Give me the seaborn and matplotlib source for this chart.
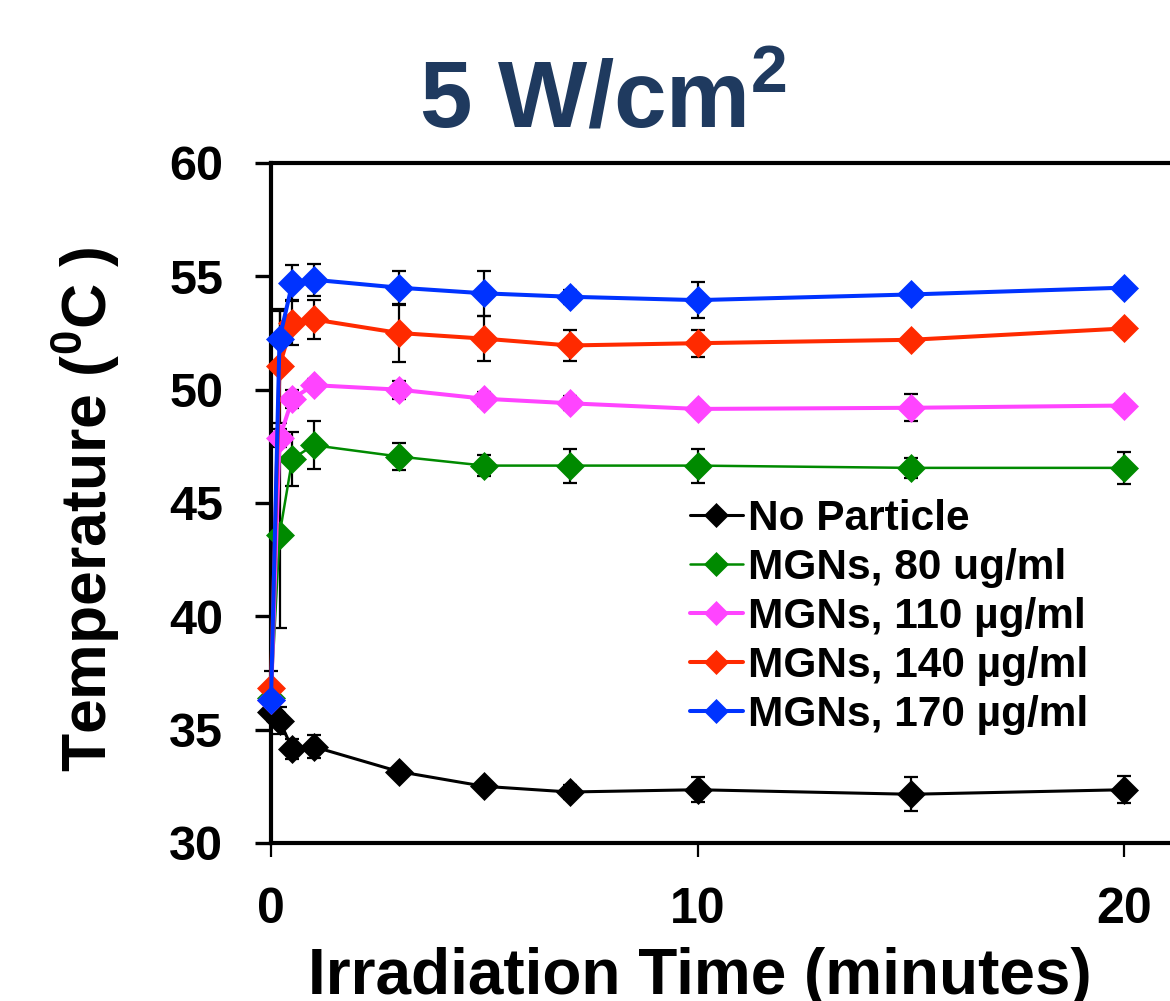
import numpy as np
import pandas as pd
import matplotlib
matplotlib.use("Agg")
import matplotlib.pyplot as plt
import seaborn as sns

# ---------------- data ----------------
times = [0, 0.2, 0.5, 1, 3, 5, 7, 10, 15, 20]
series_names = ["No Particle", "MGNs, 80 ug/ml", "MGNs, 110 µg/ml",
                "MGNs, 140 µg/ml", "MGNs, 170 µg/ml"]

no_particle = [35.8, 35.4, 34.15, 34.25, 33.15, 32.5, 32.25, 32.35, 32.15, 32.35]
mgn_80 = [36.4, 43.6, 46.95, 47.55, 47.05, 46.65, 46.65, 46.65, 46.55, 46.55]
mgn_110 = [36.3, 47.85, 49.6, 50.2, 50.0, 49.6, 49.4, 49.15, 49.2, 49.3]
mgn_140 = [36.85, 51.05, 52.95, 53.1, 52.5, 52.25, 51.95, 52.05, 52.2, 52.7]
mgn_170 = [36.3, 52.25, 54.7, 54.85, 54.5, 54.25, 54.1, 53.95, 54.2, 54.5]

err_no_particle = [0.3, 0.6, 0.45, 0.5, 0.2, 0.25, 0.3, 0.55, 0.75, 0.6]
err_80 = [0.3, 4.1, 1.2, 1.05, 0.6, 0.45, 0.75, 0.75, 0.45, 0.7]
err_110 = [0.3, 0.4, 0.4, 0.25, 0.4, 0.3, 0.3, 0.15, 0.6, 0.2]
err_140 = [0.75, 2.5, 1.0, 0.85, 1.3, 1.0, 0.7, 0.6, 0.2, 0.2]
err_170 = [0.3, 1.2, 0.8, 0.7, 0.75, 1.0, 0.3, 0.8, 0.25, 0.2]

values = [no_particle, mgn_80, mgn_110, mgn_140, mgn_170]
errors = [err_no_particle, err_80, err_110, err_140, err_170]

colors = ["#000000", "#008A00", "#FF44FF", "#FF2A00", "#0033FF"]
line_widths = [2.2, 1.8, 2.9, 2.9, 2.9]

x_ticks = [0, 10, 20]
y_ticks = [30, 35, 40, 45, 50, 55, 60]

rows = []
for name, vals, errs in zip(series_names, values, errors):
    for t, v, e in zip(times, vals, errs):
        rows.append({"time": t, "temp": v, "err": e, "series": name})
df = pd.DataFrame(rows)

# ---------------- style ----------------
sns.set_theme(style="white")
plt.rcParams['font.family'] = ['Liberation Sans', 'DejaVu Sans']
plt.rcParams['font.weight'] = 'bold'
plt.rcParams['axes.labelweight'] = 'bold'
plt.rcParams['text.color'] = 'black'
plt.rcParams['mathtext.fontset'] = 'custom'
plt.rcParams['mathtext.rm'] = 'Liberation Sans:bold'
plt.rcParams['mathtext.it'] = 'Liberation Sans:bold'
plt.rcParams['mathtext.bf'] = 'Liberation Sans:bold'

W, H = 1170, 1001
fig = plt.figure(figsize=(W / 100, H / 100), dpi=100)
ax = fig.add_axes([271 / W, (H - 843) / H, (W - 271) / W, 680 / H])

ms = 14
for name, c, lw in zip(series_names, colors, line_widths):
    sub = df[df["series"] == name]
    ax.errorbar(sub["time"], sub["temp"], yerr=sub["err"], fmt="none",
                ecolor="black", elinewidth=1.6, capsize=5, capthick=1.6,
                zorder=2, clip_on=False)
    sns.lineplot(data=sub, x="time", y="temp", color=c, linewidth=lw,
                 marker="D", markersize=ms, markeredgecolor=c,
                 markeredgewidth=0.5, ax=ax, label=name, zorder=3,
                 clip_on=False, estimator=None, sort=False)

ax.set_xlim(0, (W - 271) / 42.65)
ax.set_ylim(30, 60)
ax.set_xticks(x_ticks)
ax.set_yticks(y_ticks)
ax.tick_params(axis="y", left=True, direction="out", length=11.5, width=2.4,
               pad=23, labelsize=35, color="black", labelcolor="black")
ax.tick_params(axis="x", bottom=True, direction="out", length=10, width=1.6,
               pad=22, labelsize=36, color="black", labelcolor="black")
for lab in ax.get_xticklabels() + ax.get_yticklabels():
    lab.set_fontweight("bold")

ax.spines["right"].set_visible(False)
for s in ["left", "top", "bottom"]:
    ax.spines[s].set_linewidth(3.0)
    ax.spines[s].set_color("black")

ax.set_ylabel("Temperature ($^{0}$C )", fontsize=45, fontweight="bold",
              color="black")
ax.yaxis.set_label_coords(-0.166, 0.491)
ax.set_xlabel("Irradiation Time (minutes)", fontsize=46, fontweight="bold",
              color="black")
ax.xaxis.set_label_coords(0.477, -0.153)

handles, labels = ax.get_legend_handles_labels()
leg = ax.legend(handles, labels, loc="upper left",
                bbox_to_anchor=(690 / W, 1 - 499 / H),
                bbox_transform=fig.transFigure, frameon=False, fontsize=30.5,
                handlelength=1.24, handletextpad=0.14, labelspacing=0.21,
                borderpad=0, borderaxespad=0)
for h in leg.legend_handles:
    h.set_markersize(ms * 0.9)
for t in leg.get_texts():
    t.set_fontweight("bold")
    t.set_color("black")

fig.text(603 / W, 1 - 127 / H, "5 W/cm$^2$", ha="center", va="baseline",
         fontsize=68, fontweight="bold", color="#1F3A5F")

fig.savefig("out.png", dpi=100)
